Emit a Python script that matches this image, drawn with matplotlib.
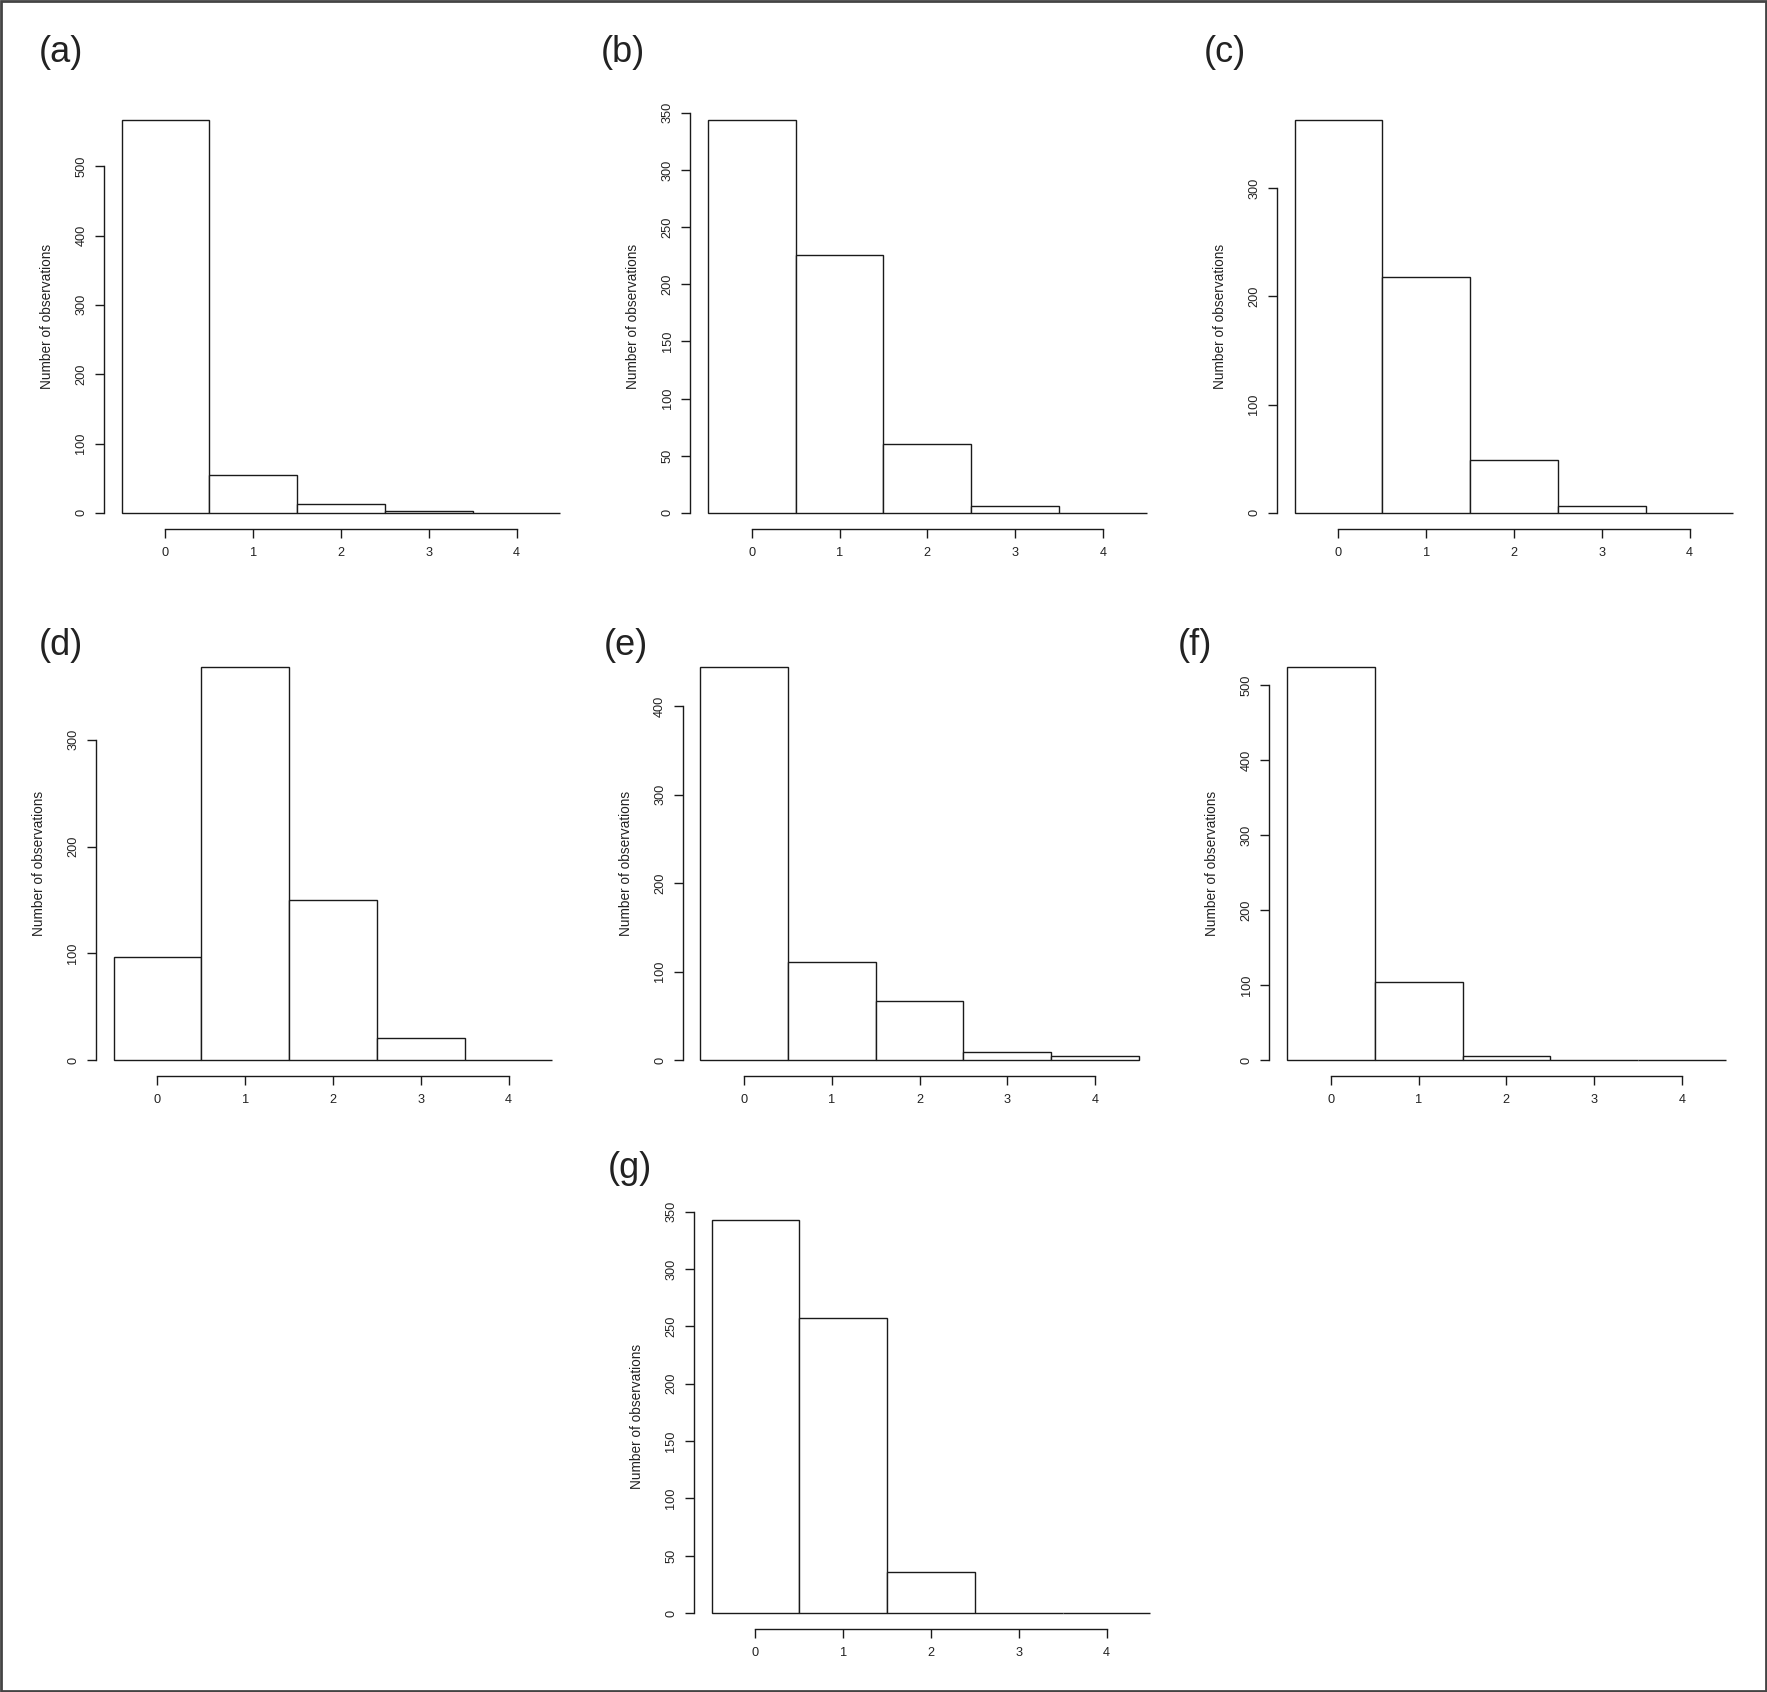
import matplotlib
matplotlib.use("Agg")
import matplotlib.pyplot as plt
from matplotlib.patches import Rectangle
import numpy as np

plt.rcParams['font.family'] = ['Liberation Sans', 'DejaVu Sans']

# ---- data ----
categories = [0, 1, 2, 3, 4]
counts_a = [567, 54, 13, 2, 0]
counts_b = [344, 226, 60, 6, 0]
counts_c = [363, 218, 49, 6, 0]
counts_d = [97, 368, 150, 21, 0]
counts_e = [444, 111, 67, 9, 5]
counts_f = [524, 104, 6, 1, 1]
counts_g = [343, 257, 36, 0, 0]
panel_labels = ["(a)", "(b)", "(c)", "(d)", "(e)", "(f)", "(g)"]
ytick_steps = [100, 50, 100, 100, 100, 100, 50]
xtick_labels = ["0", "1", "2", "3", "4"]
ylabel_text = "Number of observations"

all_counts = [counts_a, counts_b, counts_c, counts_d, counts_e, counts_f, counts_g]

# ---- layout (pixels in a 1767x1692 canvas) ----
W, H = 1767, 1692
fig = plt.figure(figsize=(W / 100, H / 100), dpi=100)
fig.patch.set_facecolor("white")

pw = 474.0
# (left, top, bottom) of each plot region in pixels
regions = [
    (104.0, 104.0, 528.6),
    (690.3, 104.0, 528.6),
    (1277.0, 104.0, 528.6),
    (96.0, 651.5, 1076.0),
    (682.6, 651.5, 1076.0),
    (1269.4, 651.5, 1076.0),
    (694.0, 1204.1, 1628.7),
]
label_pos = [
    (39, 52), (601, 52), (1204, 52),
    (39, 645), (604, 645), (1178, 645),
    (608, 1168),
]

lc = "#1a1a1a"
lw = 1.0

for i, counts in enumerate(all_counts):
    left, top, bottom = regions[i]
    ax = fig.add_axes([left / W, 1 - bottom / H, pw / W, (bottom - top) / H])
    ax.bar(categories, counts, width=1.0, align="center",
           facecolor="white", edgecolor=lc, linewidth=lw)
    ymax = max(counts)
    ax.set_xlim(-0.7, 4.7)
    ax.set_ylim(-0.04 * ymax, 1.04 * ymax)
    step = ytick_steps[i]
    yt = np.arange(0, 1.04 * ymax + 1e-9, step)
    ax.set_yticks(yt)
    ax.set_yticklabels([str(int(v)) for v in yt], rotation=90, va="center", ha="right")
    ax.set_xticks(categories)
    ax.set_xticklabels(xtick_labels)
    for s in ["top", "right"]:
        ax.spines[s].set_visible(False)
    ax.spines["left"].set_bounds(0, yt[-1])
    ax.spines["bottom"].set_bounds(0, 4)
    for s in ["left", "bottom"]:
        ax.spines[s].set_linewidth(lw)
        ax.spines[s].set_color(lc)
    ax.tick_params(axis="both", length=6.2, width=lw, color=lc,
                   labelsize=9.2, labelcolor="#222222")
    ax.tick_params(axis="y", pad=5.7)
    ax.tick_params(axis="x", pad=6.9)
    ax.set_ylabel(ylabel_text, fontsize=9.8, color="#222222", va="center")
    ax.yaxis.set_label_coords(-57 / pw, 0.5)
    ax.patch.set_alpha(0)

    lx, ly = label_pos[i]
    fig.text(lx / W, 1 - ly / H, panel_labels[i], fontsize=26,
             ha="left", va="center", color="#222222")

fig.add_artist(Rectangle((0.0005, 0.0005), 0.999, 0.999, transform=fig.transFigure,
                         fill=False, edgecolor="#444444", linewidth=2))

fig.savefig("out.png", dpi=100, facecolor="white")
